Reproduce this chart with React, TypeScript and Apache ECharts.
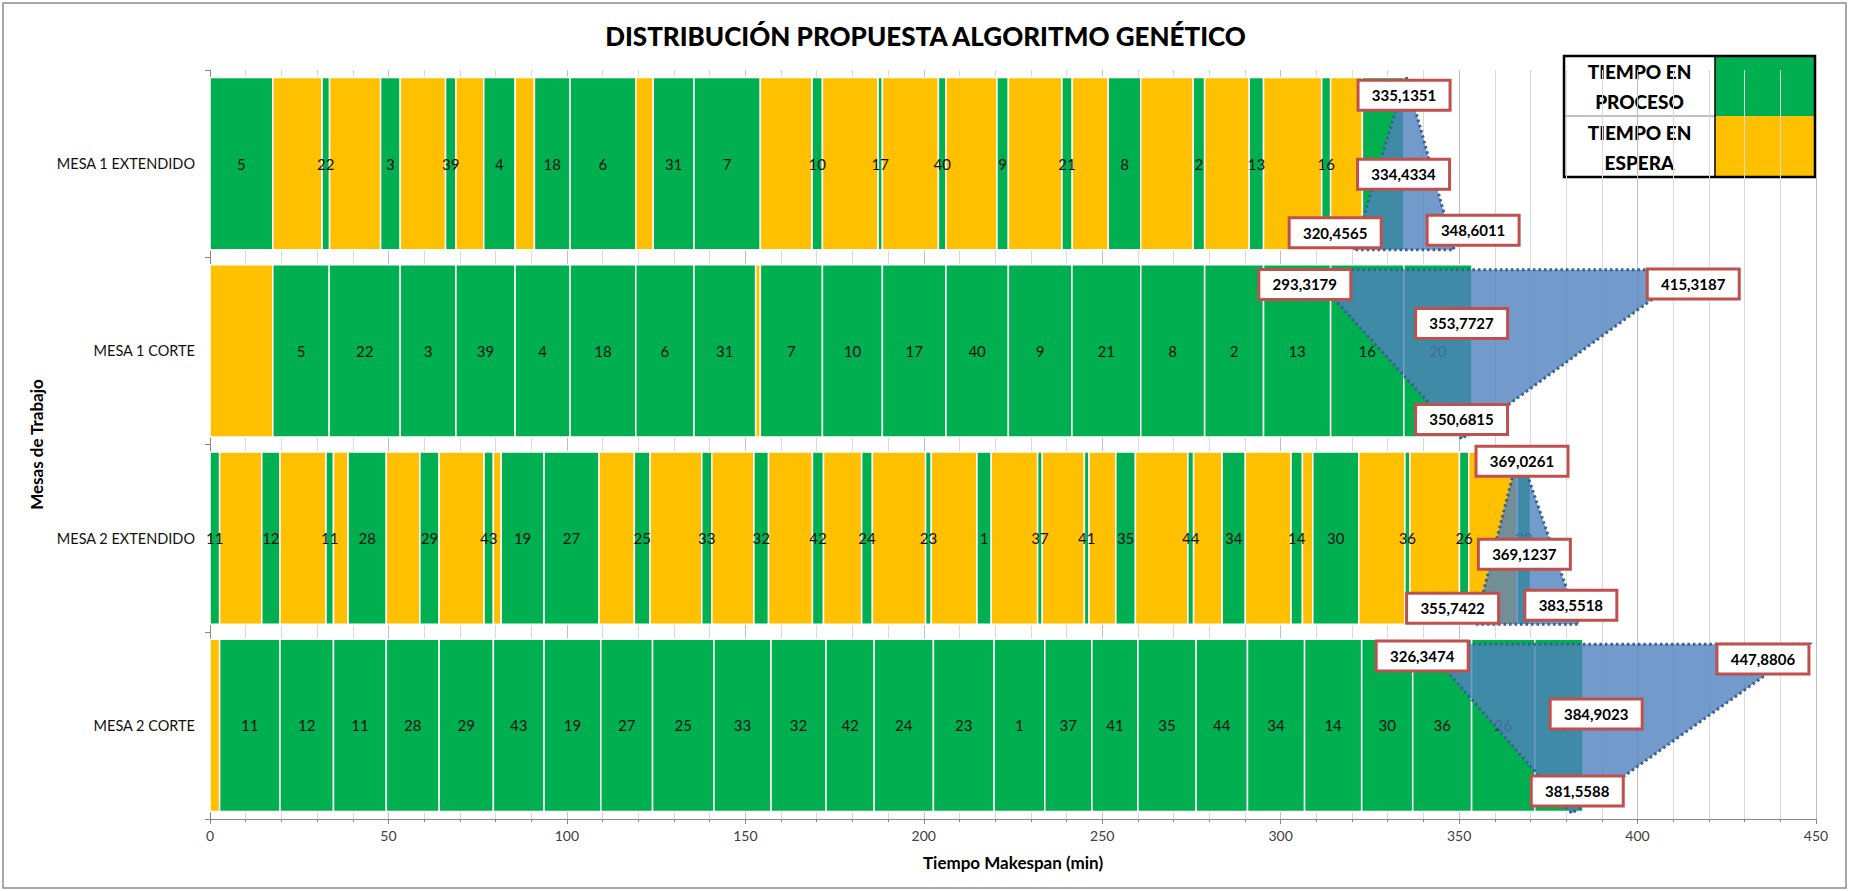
import React, { useEffect, useRef } from "react";
import * as echarts from "echarts";

// ---------- DATA ----------
const categories = ["MESA 1 EXTENDIDO", "MESA 1 CORTE", "MESA 2 EXTENDIDO", "MESA 2 CORTE"];

const jobsMesa1 = ["5", "22", "3", "39", "4", "18", "6", "31", "7", "10", "17", "40", "9", "21", "8", "2", "13", "16", "20"];
const jobsMesa2 = ["11", "12", "11", "28", "29", "43", "19", "27", "25", "33", "32", "42", "24", "23", "1", "37", "41", "35", "44", "34", "14", "30", "36", "26", "20"];

// waiting time before each job (TIEMPO EN ESPERA) and processing time (TIEMPO EN PROCESO)
const m1ExtWait = [0, 13.8, 14.3, 12.7, 7.8, 5.4, 0, 4.9, 0, 14.5, 15.6, 15.7, 14.3, 15.0, 10.1, 14.7, 12.5, 16.3, 8.9];
const m1ExtProc = [17.6, 2.1, 5.5, 2.9, 8.8, 10.0, 18.4, 11.4, 18.6, 2.9, 1.2, 2.1, 3.2, 2.9, 9.1, 3.2, 4.0, 2.5, 11.6];
const m1CorteWait = [17.6, 0, 0, 0, 0, 0, 0, 0, 1.3, 0, 0, 0, 0, 0, 0, 0, 0, 0, 0];
const m1CorteProc = [15.8, 19.9, 15.6, 16.6, 15.4, 18.4, 16.3, 17.3, 17.4, 16.8, 17.8, 17.5, 17.8, 19.3, 17.9, 16.5, 18.8, 20.5, 19.1];
const m2ExtWait = [0, 11.8, 12.9, 4.1, 9.4, 12.6, 2.2, 0, 9.9, 14.5, 11.8, 12.3, 10.7, 14.9, 12.8, 13.0, 11.8, 7.5, 14.7, 8.0, 12.8, 2.9, 12.9, 13.9, 13.6];
const m2ExtProc = [2.7, 5.1, 2.1, 10.7, 5.4, 2.6, 12.0, 15.4, 4.4, 2.8, 4.1, 3.1, 3.0, 1.6, 4.0, 1.3, 1.3, 5.5, 1.6, 6.5, 3.2, 12.9, 1.4, 2.6, 3.7];
const m2CorteWait = [2.7, 0, 0, 0, 0, 0, 0, 0, 0, 0, 0, 0, 0, 0, 0, 0, 0, 0, 0, 0, 0, 0, 0, 0, 0];
const m2CorteProc = [16.9, 15.0, 14.8, 14.8, 15.2, 14.2, 15.9, 14.5, 17.2, 16.0, 15.4, 13.5, 16.6, 17.0, 14.2, 13.2, 12.9, 16.3, 14.4, 16.0, 16.0, 14.3, 16.5, 17.7, 13.5];

// triangular estimates drawn over each bar (vertex values on the time axis)
const triFirst = [320.4565, 307.5, 354.5, 340.0];
const triSecond = [335.1351, 415.3187, 366.8, 447.8806];
const triThird = [348.6011, 350.6815, 383.5518, 381.5588];
const triInverted = [false, true, false, true];

// estimate labels per table
const estM1Ext = [335.1351, 334.4334, 320.4565, 348.6011];
const estM1Corte = [293.3179, 415.3187, 353.7727, 350.6815];
const estM2Ext = [369.0261, 369.1237, 355.7422, 383.5518];
const estM2Corte = [326.3474, 447.8806, 384.9023, 381.5588];

const legendProceso = "TIEMPO EN\nPROCESO";
const legendEspera = "TIEMPO EN\nESPERA";

// ---------- STYLE / LAYOUT ----------
const GREEN = "#00B050";
const YELLOW = "#FFC000";
const FONT = 'Lato, "Open Sans", sans-serif';
const BAR_RATIO = 0.919;
// job labels fully covered by an estimate box in the original (row, job index)
const COVERED_LABELS = ["0-18"];
// pixel offsets of each estimate label box from its anchor (value, row centre)
const LABEL_OFFSETS = [
  [[-2, -68.5], [0, 10.5], [-18.5, 69], [19, 66.5]],
  [[48, -66.5], [1, -67], [-11, -27.5], [0, 68.5]],
  [[-5, -77], [-3, 16], [-27, 70], [-8, 67]],
  [[47.5, -69.5], [-45.5, -66.5], [12.5, -11.5], [5.5, 65.5]],
];

type Seg = { start: number; end: number; row: number; proc: boolean; label: string };

function buildSegments(row: number, waits: number[], procs: number[], jobs: string[]): Seg[] {
  const out: Seg[] = [];
  let t = 0;
  for (let i = 0; i < procs.length; i++) {
    if (waits[i] > 0) {
      out.push({ start: t, end: t + waits[i], row, proc: false, label: "" });
      t += waits[i];
    }
    const hidden = COVERED_LABELS.indexOf(row + "-" + i) >= 0;
    out.push({ start: t, end: t + procs[i], row, proc: true, label: hidden ? "" : jobs[i] });
    t += procs[i];
  }
  return out;
}

const fmt = (v: number) => v.toFixed(4).replace(".", ",");

export default function App() {
  const ref = useRef<HTMLDivElement>(null);

  useEffect(() => {
    if (!ref.current) return;
    const chart = echarts.init(ref.current, undefined, { renderer: "svg" });

    const segments: Seg[] = [
      ...buildSegments(0, m1ExtWait, m1ExtProc, jobsMesa1),
      ...buildSegments(1, m1CorteWait, m1CorteProc, jobsMesa1),
      ...buildSegments(2, m2ExtWait, m2ExtProc, jobsMesa2),
      ...buildSegments(3, m2CorteWait, m2CorteProc, jobsMesa2),
    ];

    const estRows = [estM1Ext, estM1Corte, estM2Ext, estM2Corte];
    const estItems: { row: number; value: number; k: number }[] = [];
    estRows.forEach((arr, row) => arr.forEach((value, k) => estItems.push({ row, value, k })));

    const option: any = {
      animation: false,
      backgroundColor: "#fff",
      title: {
        text: "DISTRIBUCIÓN PROPUESTA ALGORITMO GENÉTICO",
        left: "center",
        top: 18,
        textStyle: { fontFamily: FONT, fontSize: 26, fontWeight: 900, color: "#000" },
      },
      grid: { left: 210, right: 35, top: 70, bottom: 72 },
      xAxis: {
        type: "value",
        min: 0,
        max: 450,
        interval: 50,
        name: "Tiempo Makespan (min)",
        nameLocation: "middle",
        nameGap: 35,
        nameTextStyle: { fontFamily: FONT, fontSize: 17, fontWeight: "bold", color: "#000" },
        axisLine: { show: true, lineStyle: { color: "#868686", width: 1 } },
        axisTick: { show: true, length: 5, lineStyle: { color: "#868686" } },
        minorTick: { show: true, splitNumber: 5, length: 3, lineStyle: { color: "#868686" } },
        axisLabel: { fontFamily: FONT, fontSize: 14, color: "#404040", margin: 9 },
        splitLine: { show: true, lineStyle: { color: "#BFBFBF" } },
        minorSplitLine: { show: true, lineStyle: { color: "#D9D9D9" } },
      },
      yAxis: {
        type: "category",
        data: categories,
        inverse: true,
        name: "Mesas de Trabajo",
        nameLocation: "middle",
        nameGap: 161,
        nameRotate: 90,
        nameTextStyle: { fontFamily: FONT, fontSize: 17, fontWeight: "bold", color: "#000" },
        axisLine: { show: true, lineStyle: { color: "#868686" } },
        axisTick: { show: true, length: 5, lineStyle: { color: "#868686" } },
        axisLabel: { fontFamily: FONT, fontSize: 14.5, color: "#111", margin: 15 },
        splitLine: { show: false },
      },
      series: [
        {
          type: "custom",
          name: "segments",
          z: 2,
          encode: { x: [0, 1], y: 2 },
          data: segments.map((s) => [s.start, s.end, s.row]),
          renderItem: (params: any, api: any) => {
            const seg = segments[params.dataIndex];
            const p0 = api.coord([api.value(0), api.value(2)]);
            const p1 = api.coord([api.value(1), api.value(2)]);
            const h = api.size([0, 1])[1] * BAR_RATIO;
            const children: any[] = [
              {
                type: "rect",
                shape: { x: p0[0], y: p0[1] - h / 2, width: p1[0] - p0[0], height: h },
                style: { fill: seg.proc ? GREEN : YELLOW, stroke: "#ffffff", lineWidth: 1.5 },
              },
            ];
            if (seg.label) {
              children.push({
                type: "text",
                z2: 10,
                style: {
                  text: seg.label,
                  x: (p0[0] + p1[0]) / 2,
                  y: p0[1],
                  align: "center",
                  verticalAlign: "middle",
                  fontFamily: FONT,
                  fontSize: 15,
                  fill: "#111",
                },
              });
            }
            return { type: "group", children };
          },
        },
        {
          type: "custom",
          name: "estimates",
          z: 3,
          encode: { x: [0, 1, 2], y: 3 },
          data: triFirst.map((a, i) => [a, triSecond[i], triThird[i], i]),
          renderItem: (params: any, api: any) => {
            const i = params.dataIndex;
            const row = api.value(3);
            const pa = api.coord([api.value(0), row]);
            const pb = api.coord([api.value(1), row]);
            const pc = api.coord([api.value(2), row]);
            const h = api.size([0, 1])[1] * BAR_RATIO;
            const top = pa[1] - h / 2;
            const bot = pa[1] + h / 2;
            const points = triInverted[i]
              ? [[pa[0], top + 5], [pb[0], top + 5], [pc[0], bot + 2]]
              : [[pa[0], bot], [pb[0], top - 1], [pc[0], bot]];
            return {
              type: "polygon",
              shape: { points },
              style: {
                fill: "rgba(79,129,189,0.8)",
                stroke: "#3A5F93",
                lineWidth: 3,
                lineDash: [2.5, 3],
              },
            };
          },
        },
        {
          type: "custom",
          name: "estimateLabels",
          z: 4,
          encode: { x: 0, y: 1 },
          data: estItems.map((e) => [e.value, e.row]),
          renderItem: (params: any, api: any) => {
            const it = estItems[params.dataIndex];
            const p = api.coord([api.value(0), api.value(1)]);
            const off = LABEL_OFFSETS[it.row][it.k];
            const cx = p[0] + off[0];
            const cy = p[1] + off[1];
            const w = 92;
            const hh = 30;
            return {
              type: "group",
              children: [
                {
                  type: "rect",
                  shape: { x: cx - w / 2, y: cy - hh / 2, width: w, height: hh },
                  style: { fill: "#fff", stroke: "#C0504D", lineWidth: 3 },
                },
                {
                  type: "text",
                  style: {
                    text: fmt(it.value),
                    x: cx,
                    y: cy,
                    align: "center",
                    verticalAlign: "middle",
                    fontFamily: FONT,
                    fontSize: 15,
                    fontWeight: "bold",
                    fill: "#000",
                  },
                },
              ],
            };
          },
        },
      ],
      graphic: [
        {
          type: "rect",
          silent: true,
          shape: { x: 3, y: 3, width: 1843, height: 885 },
          style: { fill: "none", stroke: "#8c8c8c", lineWidth: 1.5 },
          z: -1,
        },
        {
          type: "group",
          z: 10,
          children: [
            { type: "rect", shape: { x: 1564, y: 56, width: 251, height: 121 }, style: { fill: "#fff" } },
            { type: "rect", shape: { x: 1715, y: 56, width: 100, height: 60 }, style: { fill: GREEN } },
            { type: "rect", shape: { x: 1715, y: 116, width: 100, height: 61 }, style: { fill: YELLOW } },
            { type: "line", shape: { x1: 1564, y1: 116, x2: 1715, y2: 116 }, style: { stroke: "#808080", lineWidth: 1 } },
            { type: "line", shape: { x1: 1715, y1: 56, x2: 1715, y2: 177 }, style: { stroke: "#000", lineWidth: 1.5 } },
            {
              type: "text",
              style: {
                text: legendProceso, x: 1639.5, y: 86, align: "center", verticalAlign: "middle",
                fontFamily: FONT, fontSize: 19, fontWeight: 900, lineHeight: 30, fill: "#000",
              },
            },
            {
              type: "text",
              style: {
                text: legendEspera, x: 1639.5, y: 147, align: "center", verticalAlign: "middle",
                fontFamily: FONT, fontSize: 19, fontWeight: 900, lineHeight: 30, fill: "#000",
              },
            },
            { type: "rect", shape: { x: 1564, y: 56, width: 251, height: 121 }, style: { fill: "none", stroke: "#000", lineWidth: 2.5 } },
          ],
        },
      ],
    };

    chart.setOption(option);
    return () => chart.dispose();
  }, []);

  return <div ref={ref} style={{ position: "fixed", left: 0, top: 0, width: 1851, height: 891 }} />;
}
